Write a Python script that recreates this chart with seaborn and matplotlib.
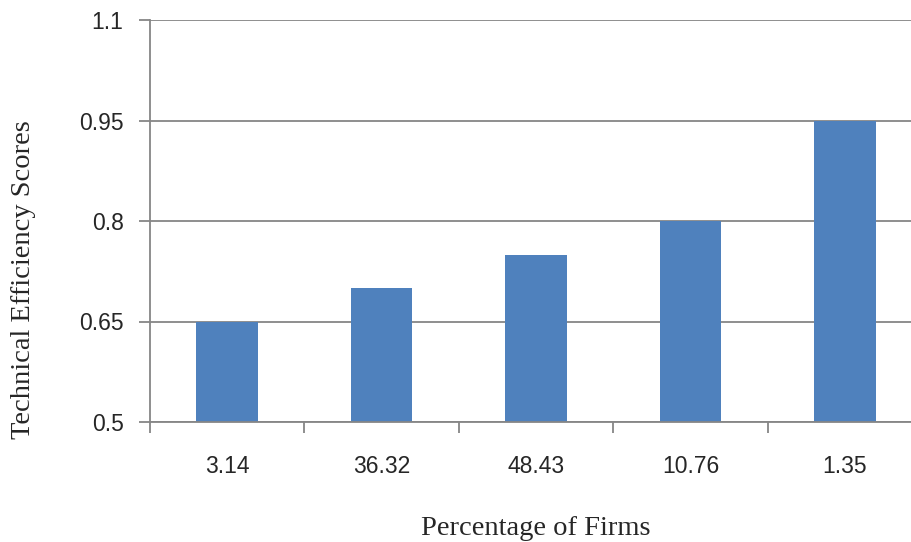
import pandas as pd
import matplotlib
matplotlib.use("Agg")
import matplotlib.pyplot as plt
import seaborn as sns

# data
firm_pct = ["3.14", "36.32", "48.43", "10.76", "1.35"]
te_scores = [0.65, 0.70, 0.75, 0.80, 0.95]
y_ticks = [0.5, 0.65, 0.8, 0.95, 1.1]
y_tick_labels = ["0.5", "0.65", "0.8", "0.95", "1.1"]

df = pd.DataFrame({"pct": firm_pct, "score": te_scores})

sns.set_style("white")
plt.rcParams["font.family"] = ["Liberation Sans", "DejaVu Sans"]

grey = "#868686"
fig = plt.figure(figsize=(9.12, 5.42), dpi=100)
# axes runs slightly past the right edge, as in the reference crop
ax = fig.add_axes([150 / 912, (542 - 422) / 542, 772 / 912, 402 / 542])

sns.barplot(data=df, x="pct", y="score", color="#4F81BD", saturation=1,
            width=0.4, linewidth=0, ax=ax)

ax.set_ylim(0.5, 1.1)
ax.set_xlim(-0.5, 4.5)
ax.set_yticks(y_ticks)
ax.set_yticklabels(y_tick_labels)
ax.yaxis.grid(True, color=grey, linewidth=1.3)
ax.set_axisbelow(True)

for side in ["top", "right"]:
    ax.spines[side].set_visible(False)
for side in ["left", "bottom"]:
    ax.spines[side].set_color(grey)
    ax.spines[side].set_linewidth(1.3)

# category boundary ticks on the x axis, labels in the middle
ax.set_xticks([i - 0.5 for i in range(len(firm_pct) + 1)], minor=False)
ax.set_xticklabels([])
ax.set_xticks(range(len(firm_pct)), minor=True)
ax.set_xticklabels(firm_pct, minor=True)
ax.tick_params(axis="x", which="major", direction="out", length=8,
               color=grey, width=1.3, bottom=True)
ax.tick_params(axis="x", which="minor", length=0, pad=24, labelsize=16.5)
ax.tick_params(axis="y", direction="out", length=8, color=grey, width=1.3,
               left=True, labelsize=16.5, pad=11)

ax.set_xlabel("Percentage of Firms", fontfamily="Liberation Serif",
              fontsize=20.5, va="baseline")
ax.xaxis.set_label_coords(0.5, -0.281)
ax.set_ylabel("Technical Efficiency Scores", fontfamily="Liberation Serif",
              fontsize=20.5)
ax.yaxis.set_label_coords(-0.1645, 0.353)
ax.yaxis.label.set(va="center", ha="center")

fig.savefig("out.png", dpi=100)
